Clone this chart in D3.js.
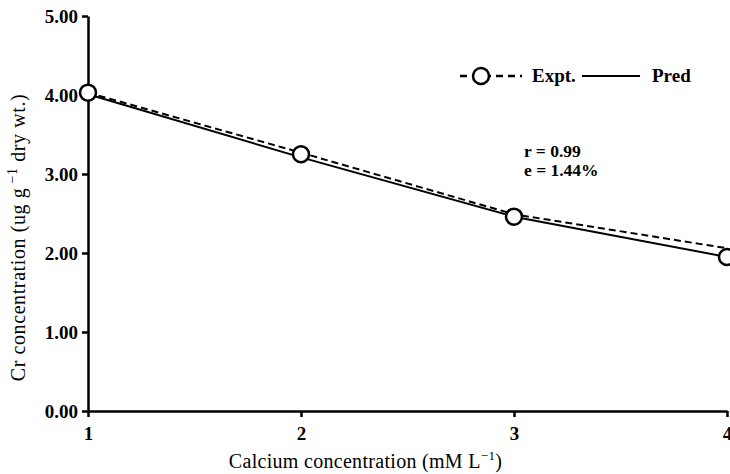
<!DOCTYPE html>
<meta charset="utf-8">
<script src="https://d3js.org/d3.v7.min.js"></script>
<style>
    body { margin: 0; background: #fff; }
    .axis path, .axis line { stroke: #000; stroke-width: 2.5px; }
</style>
<div id="chart"></div>
<script>
    // data
    var calcium = [1, 2, 3, 4];
    var exptPoints = [4.03, 3.25, 2.46, 1.95];
    var exptLine = [4.03, 3.27, 2.49, 2.06];
    var pred = [4.01, 3.21, 2.46, 1.95];
    var yTicks = [0, 1, 2, 3, 4, 5];
    var stats = ["r = 0.99", "e = 1.44%"];

    var serif = "'Liberation Serif', 'Times New Roman', Times, Tinos, 'Noto Serif', 'DejaVu Serif', FreeSerif, serif";

    var margin = {top: 16, right: 3, bottom: 63, left: 88},
        width = 730 - margin.left - margin.right,
        height = 474 - margin.top - margin.bottom;

    var svg = d3.select("#chart")
        .append("svg")
        .attr("width", 730)
        .attr("height", 474)
        .append("g")
        .attr("transform", "translate(" + margin.left + "," + margin.top + ")");

    var x = d3.scaleLinear().domain([1, 4]).range([0, width]);
    var y = d3.scaleLinear().domain([0, 5]).range([height, 0]);

    // axes
    svg.append("g")
        .attr("class", "axis")
        .attr("transform", "translate(0," + height + ")")
        .call(d3.axisBottom(x).tickValues(calcium).tickFormat(d3.format("d")).tickSize(6).tickSizeOuter(0).tickPadding(10));

    svg.append("g")
        .attr("class", "axis")
        .call(d3.axisLeft(y).tickValues(yTicks).tickFormat(d3.format(".2f")).tickSize(6).tickSizeOuter(0).tickPadding(4));

    svg.selectAll(".axis").attr("font-family", serif).attr("font-size", 19).attr("font-weight", "bold");
    svg.selectAll(".axis text").style("font-family", serif);

    // axis titles
    var xt = svg.append("text")
        .attr("x", width / 2 - 42)
        .attr("y", height + 57)
        .attr("text-anchor", "middle")
        .style("font-family", serif)
        .style("font-size", "20px")
        .style("letter-spacing", "0.3px");
    xt.append("tspan").text("Calcium concentration (mM L");
    xt.append("tspan").attr("dy", -8).style("font-size", "13px").text("\u22121");
    xt.append("tspan").attr("dy", 8).text(")");

    var yt = svg.append("text")
        .attr("transform", "translate(-63," + (height / 2 + 24) + ") rotate(-90)")
        .attr("text-anchor", "middle")
        .style("font-family", serif)
        .style("font-size", "20px")
        .style("letter-spacing", "0.6px");
    yt.append("tspan").text("Cr concentration (ug g");
    yt.append("tspan").attr("dy", -8).style("font-size", "14px").text(" \u22121");
    yt.append("tspan").attr("dy", 8).text(" dry wt.)");

    // lines
    var line = d3.line()
        .x(function(d, i) { return x(calcium[i]); })
        .y(function(d) { return y(d); });

    svg.append("path")
        .datum(pred)
        .attr("fill", "none")
        .attr("stroke", "#000")
        .attr("stroke-width", 2)
        .attr("d", line);

    svg.append("path")
        .datum(exptLine)
        .attr("fill", "none")
        .attr("stroke", "#000")
        .attr("stroke-width", 2)
        .attr("stroke-dasharray", "7,4")
        .attr("d", line);

    svg.selectAll(".dot")
        .data(exptPoints)
        .enter()
        .append("circle")
        .attr("cx", function(d, i) { return x(calcium[i]); })
        .attr("cy", function(d) { return y(d); })
        .attr("r", 8)
        .attr("fill", "#fff")
        .attr("stroke", "#000")
        .attr("stroke-width", 2.5);

    // legend
    var lg = svg.append("g").attr("transform", "translate(372,60)");
    lg.append("line")
        .attr("x1", 0).attr("x2", 62)
        .attr("stroke", "#000").attr("stroke-width", 2.5)
        .attr("stroke-dasharray", "7,5");
    lg.append("circle")
        .attr("cx", 21).attr("r", 8)
        .attr("fill", "#fff").attr("stroke", "#000").attr("stroke-width", 2.5);
    lg.append("text").attr("x", 72).attr("y", 6)
        .style("font-family", serif)
        .style("font-size", "19px").style("font-weight", "bold").text("Expt.");
    lg.append("line")
        .attr("x1", 122).attr("x2", 180)
        .attr("stroke", "#000").attr("stroke-width", 2);
    lg.append("text").attr("x", 192).attr("y", 6)
        .style("font-family", serif)
        .style("font-size", "19px").style("font-weight", "bold").text("Pred");

    // stats
    svg.selectAll(".stat")
        .data(stats)
        .enter()
        .append("text")
        .attr("x", 436)
        .attr("y", function(d, i) { return 141 + i * 19; })
        .style("font-family", serif)
        .style("font-size", "17.5px")
        .style("font-weight", "bold")
        .text(function(d) { return d; });
</script>
